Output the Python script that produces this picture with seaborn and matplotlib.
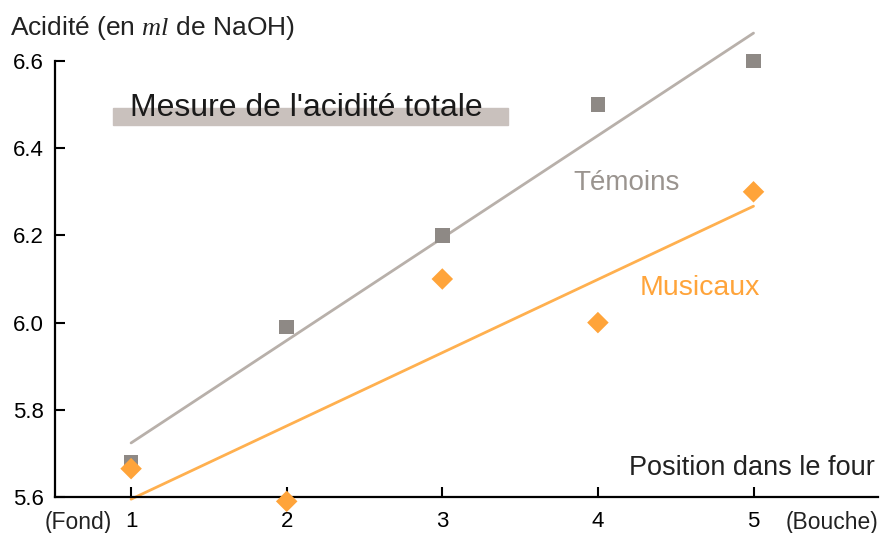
import matplotlib
matplotlib.use("Agg")
import matplotlib.pyplot as plt
import seaborn as sns
import numpy as np
import pandas as pd

positions = [1, 2, 3, 4, 5]
temoins = [5.68, 5.99, 6.20, 6.50, 6.60]
musicaux = [5.665, 5.59, 6.10, 6.00, 6.30]
yticks = [5.6, 5.8, 6.0, 6.2, 6.4, 6.6]
ytick_labels = ["5.6", "5.8", "6.0", "6.2", "6.4", "6.6"]
xtick_labels = ["1", "2", "3", "4", "5"]

sns.set_theme(style="white")
plt.rcParams['font.family'] = ['Liberation Sans', 'DejaVu Sans']
plt.rcParams['mathtext.fontset'] = 'custom'
plt.rcParams['mathtext.it'] = 'Liberation Serif:italic'

df = pd.DataFrame({"pos": positions, "tem": temoins, "mus": musicaux})

fig = plt.figure(figsize=(8.8, 5.33), dpi=100)
ax = fig.add_axes([55/880, 36/533, (878-55)/880, (497-61)/533])

grey_pt = "#8e8985"
grey_line = "#b8b0aa"
orange_pt = "#ffa43a"
orange_line = "#ffb04f"

sns.regplot(data=df, x="pos", y="tem", ax=ax, ci=None, scatter=False,
            line_kws={"color": grey_line, "lw": 2, "clip_on": False, "zorder": 2})
sns.regplot(data=df, x="pos", y="mus", ax=ax, ci=None, scatter=False,
            line_kws={"color": orange_line, "lw": 2, "clip_on": False, "zorder": 2})
sns.scatterplot(data=df, x="pos", y="tem", ax=ax, marker="s", s=110, color=grey_pt,
                edgecolor="none", clip_on=False, zorder=4)
sns.scatterplot(data=df, x="pos", y="mus", ax=ax, marker="D", s=120, color=orange_pt,
                edgecolor="none", clip_on=False, zorder=5)

ax.set_xlim(0.511, 5.80)
ax.set_ylim(5.6, 6.6)
ax.set_xticks(positions)
ax.set_xticklabels(xtick_labels)
ax.set_yticks(yticks)
ax.set_yticklabels(ytick_labels)
ax.set_xlabel("")
ax.set_ylabel("")
for s in ["top", "right"]:
    ax.spines[s].set_visible(False)
for s in ["left", "bottom"]:
    ax.spines[s].set_color("black")
    ax.spines[s].set_linewidth(1.6)
ax.tick_params(axis="both", direction="in", length=7, width=1.5, colors="black",
               labelsize=16, left=True, bottom=True)
ax.tick_params(axis="x", pad=10)
ax.tick_params(axis="y", pad=8)

fig.text(10/880, 1 - 28/533, r"Acidité (en $\mathit{ml}$ de NaOH)", fontsize=19,
         va="center", ha="left", color="#222222")

# title with grey bar
fig.patches.append(plt.Rectangle((113/880, 1 - 125/533), (508-113)/880, 17/533,
                                 transform=fig.transFigure, color="#c9c1bd", zorder=1))
fig.text(130/880, 1 - 108/533, "Mesure de l'acidité totale", fontsize=23,
         va="center", ha="left", color="#1a1a1a", zorder=3)

fig.text(875/880, 1 - 468/533, "Position dans le four", fontsize=19.5,
         va="center", ha="right", color="#222222")
fig.text(45/880, 1 - 522/533, "(Fond)", fontsize=16.5, va="center", ha="left", color="#222222")
fig.text(878/880, 1 - 522/533, "(Bouche)", fontsize=16.5, va="center", ha="right", color="#222222")

fig.text(573/880, 1 - 183/533, "Témoins", fontsize=20, va="center", ha="left", color="#9a948f")
fig.text(640/880, 1 - 288/533, "Musicaux", fontsize=20.5, va="center", ha="left", color="#ffa43a")

fig.savefig("out.png", dpi=100)
